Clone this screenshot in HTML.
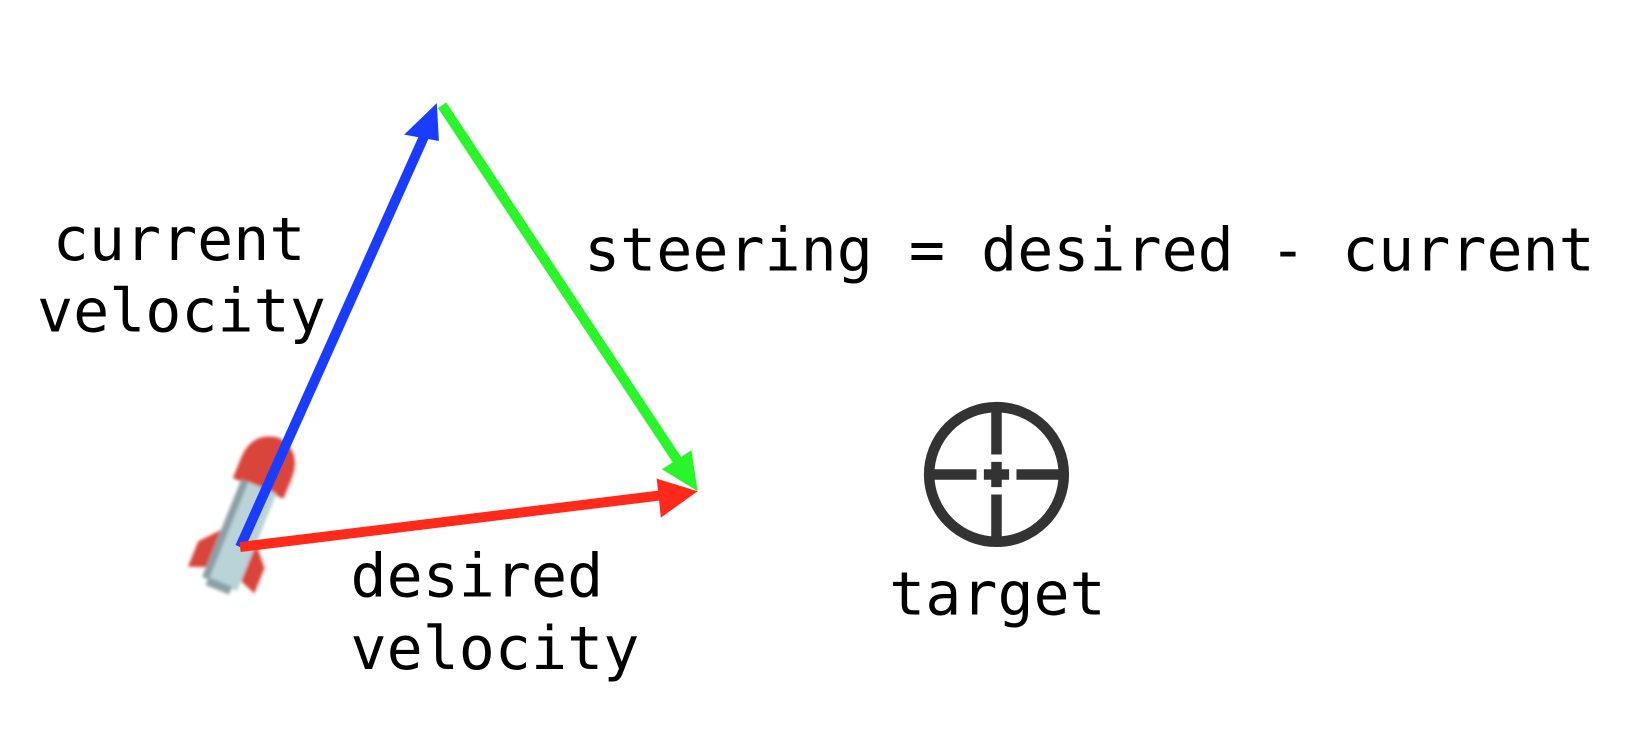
<!DOCTYPE html>
<html><head><style>
body{margin:0;background:#fff;}
svg text{font-family:"DejaVu Sans Mono","Liberation Mono",monospace;font-size:57px;fill:#000;}
</style></head><body>
<svg width="1650" height="728" viewBox="0 0 1568 692" xmlns="http://www.w3.org/2000/svg">
<defs><filter id="b"><feGaussianBlur stdDeviation="1.5"/></filter></defs>
<g transform="translate(234,492) rotate(22)" filter="url(#b)">
  <path d="M-26,-30 L-26,-50 Q-26,-78 0,-82 Q26,-78 26,-50 L26,-30 Z" fill="#d9453a"/>
  <rect x="-18" y="-32" width="36" height="100" fill="#b9d3d9"/>
  <rect x="-18" y="-32" width="7" height="100" fill="#8aa0a4"/>
  <path d="M-18,20 L-34,38 L-34,64 L-18,58 Z" fill="#d9453a"/>
  <path d="M18,20 L34,38 L34,64 L18,58 Z" fill="#d9453a"/>
  <rect x="-12" y="66" width="24" height="8" fill="#8aa0a4"/>
</g>
<line x1="228" y1="520" x2="405" y2="125" stroke="#1a3cff" stroke-width="9.5"/>
<polygon points="415,98 384,128 417,134" fill="#1a3cff"/>
<line x1="420" y1="100" x2="648" y2="444" stroke="#2af52a" stroke-width="9.5"/>
<polygon points="663,467 629,446 657,428" fill="#2af52a"/>
<line x1="228" y1="520" x2="635" y2="470" stroke="#ff2a1a" stroke-width="9.5"/>
<polygon points="663,467 624,455 628,492" fill="#ff2a1a"/>
<g stroke="#333" stroke-width="10" fill="none">
  <circle cx="947" cy="451" r="64"/>
  <line x1="947" y1="387" x2="947" y2="432"/>
  <line x1="947" y1="470" x2="947" y2="515"/>
  <line x1="883" y1="451" x2="928" y2="451"/>
  <line x1="966" y1="451" x2="1011" y2="451"/>
  <line x1="935" y1="451" x2="959" y2="451"/>
  <line x1="947" y1="439" x2="947" y2="463"/>
</g>
<text x="50" y="247">current</text>
<text x="35" y="315">velocity</text>
<text x="555" y="257">steering = desired - current</text>
<text x="333" y="567">desired</text>
<text x="333" y="636">velocity</text>
<text x="845" y="584">target</text>
</svg>
</body></html>
